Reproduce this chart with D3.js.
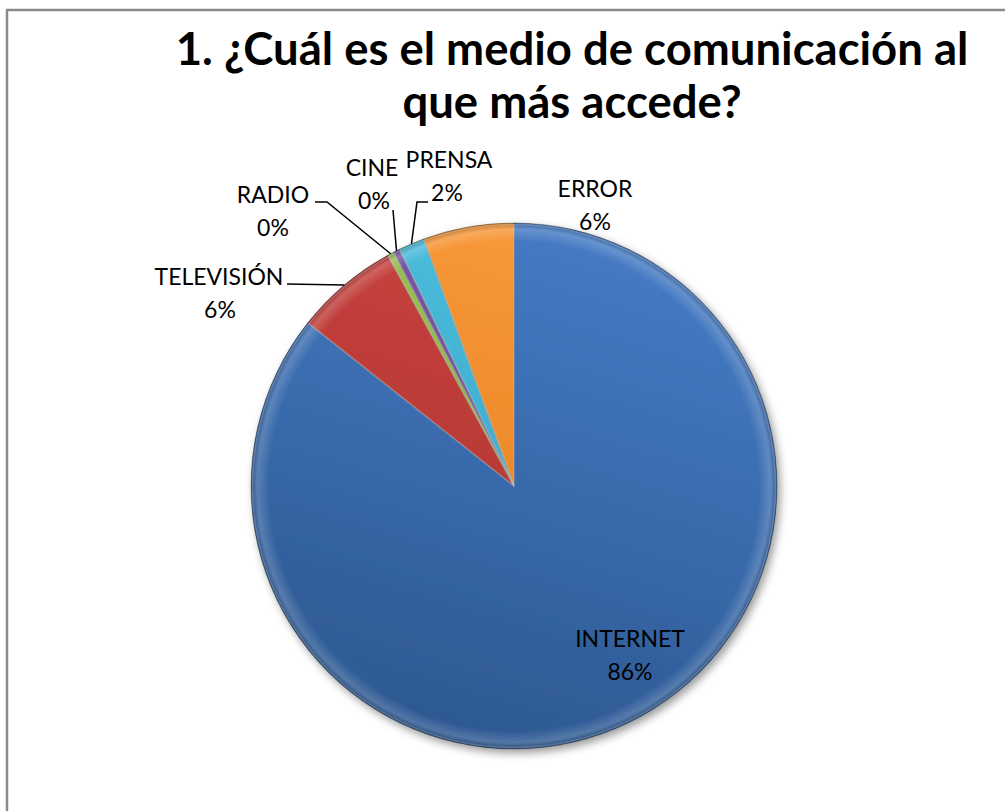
<!DOCTYPE html>
<html>
<head>
<meta charset="utf-8">
<script src="https://cdn.jsdelivr.net/npm/d3@7"></script>
<style>
  body { margin: 0; background: #fff; }
  text { font-family: Lato, "Noto Sans", sans-serif; fill: #000; }
</style>
</head>
<body>
<div class="chart"></div>
<script>
// Data
var categories = ["INTERNET", "TELEVISIÓN", "RADIO", "CINE", "PRENSA", "ERROR"];
var counts = [215, 16, 1, 1, 4, 14];
var titleLines = ["1. ¿Cuál es el medio de comunicación al", "que más accede?"];

// Colours (top light / bottom dark)
var colorsTop = ["#467cc6", "#cb4440", "#9cc454", "#7c5aa8", "#4fc0df", "#f99a3a"];
var colorsBottom = ["#2c5891", "#a8302c", "#7ea33a", "#5d3f86", "#2f9cbd", "#e27a1c"];

// Label placement (center of the two-line label block) + optional elbow of leader
var labelLayout = {
  "INTERNET":   { x: 630, y: 639 },
  "TELEVISIÓN": { x: 219, y: 277, lx: 220, lead: [[287, 284]] },
  "RADIO":      { x: 273, y: 195, lead: [[315, 202], [327, 202]] },
  "CINE":       { x: 372, y: 168, lx: 374, lead: [[393, 210]] },
  "PRENSA":     { x: 449, y: 160, lx: 447, lead: [[428, 202], [417, 202]] },
  "ERROR":      { x: 595, y: 189 }
};

var svgWidth = 1005;
var svgHeight = 811;
var cx = 514, cy = 486, radius = 263;
var labelSize = 23;

function draw() {
  var svg = d3.select(".chart")
    .append("svg")
    .attr("width", svgWidth)
    .attr("height", svgHeight);

  var defs = svg.append("defs");

  // frame
  svg.append("rect")
    .attr("x", 7).attr("y", 10)
    .attr("width", 1010).attr("height", 820)
    .attr("fill", "#fff")
    .attr("stroke", "#8a8a8a")
    .attr("stroke-width", 2.5);

  // title (fit the first line to the reference width)
  var title = svg.append("g").attr("class", "title");
  var t1 = title.append("text")
    .attr("x", 572).attr("y", 65)
    .attr("text-anchor", "middle")
    .style("font-weight", "bold")
    .style("font-size", "44px")
    .text(titleLines[0]);
  var fitSize = Math.min(46, 44 * 793 / t1.node().getComputedTextLength());
  t1.style("font-size", fitSize + "px");
  title.append("text")
    .attr("x", 572).attr("y", 118)
    .attr("text-anchor", "middle")
    .style("font-weight", "bold")
    .style("font-size", fitSize + "px")
    .text(titleLines[1]);

  // gradients, in chart coordinates (origin at pie center)
  categories.forEach(function(c, i) {
    var g = defs.append("linearGradient")
      .attr("id", "grad" + i)
      .attr("gradientUnits", "userSpaceOnUse")
      .attr("x1", radius * 0.4).attr("y1", -radius)
      .attr("x2", -radius * 0.2).attr("y2", radius);
    g.append("stop").attr("offset", "0%").attr("stop-color", colorsTop[i]);
    g.append("stop").attr("offset", "100%").attr("stop-color", colorsBottom[i]);
  });

  var bevel = defs.append("radialGradient")
    .attr("id", "bevel")
    .attr("gradientUnits", "userSpaceOnUse")
    .attr("cx", 0).attr("cy", 0).attr("r", radius);
  bevel.append("stop").attr("offset", "0.93").attr("stop-color", "#fff").attr("stop-opacity", 0);
  bevel.append("stop").attr("offset", "0.975").attr("stop-color", "#fff").attr("stop-opacity", 0.18);
  bevel.append("stop").attr("offset", "1").attr("stop-color", "#000").attr("stop-opacity", 0.25);

  var shadow = defs.append("filter")
    .attr("id", "shadow")
    .attr("x", "-10%").attr("y", "-10%")
    .attr("width", "125%").attr("height", "125%");
  shadow.append("feDropShadow")
    .attr("dx", 3).attr("dy", 4)
    .attr("stdDeviation", 4)
    .attr("flood-color", "#000")
    .attr("flood-opacity", 0.4);

  var total = d3.sum(counts);
  var pieData = d3.pie().sort(null).value(function(d) { return d; })(counts);
  var arc = d3.arc().innerRadius(0).outerRadius(radius);
  var edgeArc = d3.arc().innerRadius(radius).outerRadius(radius);
  var ringArc = d3.arc().innerRadius(radius * 0.93).outerRadius(radius);

  var chart = svg.append("g").attr("transform", "translate(" + cx + "," + cy + ")");

  var pieG = chart.append("g").attr("filter", "url(#shadow)");
  pieG.selectAll("path.slice")
    .data(pieData)
    .enter()
    .append("path")
    .attr("class", "slice")
    .attr("d", arc)
    .attr("fill", function(d, i) { return "url(#grad" + i + ")"; })
    .attr("stroke", "rgba(0,0,0,0.35)")
    .attr("stroke-width", 0.8)
    .attr("stroke-linejoin", "round");

  // bevel ring over each slice
  chart.selectAll("path.bevel")
    .data(pieData)
    .enter()
    .append("path")
    .attr("class", "bevel")
    .attr("d", ringArc)
    .attr("fill", "url(#bevel)");

  // light inner edge along slice borders
  chart.selectAll("path.hl")
    .data(pieData)
    .enter()
    .append("path")
    .attr("class", "hl")
    .attr("d", d3.arc().innerRadius(0).outerRadius(radius - 1.5))
    .attr("fill", "none")
    .attr("stroke", "rgba(255,255,255,0.2)")
    .attr("stroke-width", 1.5);

  // labels
  var labels = svg.append("g").attr("class", "labels");
  pieData.forEach(function(d, i) {
    var name = categories[i];
    var lay = labelLayout[name];
    var pct = Math.round(counts[i] / total * 100) + "%";

    labels.append("text")
      .attr("x", lay.x).attr("y", lay.y)
      .attr("text-anchor", "middle")
      .attr("dy", "0.35em")
      .style("font-size", labelSize + "px")
      .text(name);
    labels.append("text")
      .attr("x", lay.lx || lay.x).attr("y", lay.y + 33)
      .attr("text-anchor", "middle")
      .attr("dy", "0.35em")
      .style("font-size", labelSize + "px")
      .text(pct);

    if (lay.lead) {
      var end = edgeArc.centroid(d);
      var pts = lay.lead.concat([[end[0] + cx, end[1] + cy]]);
      labels.append("path")
        .attr("d", d3.line()(pts))
        .attr("fill", "none")
        .attr("stroke", "#000")
        .attr("stroke-width", 1.5);
    }
  });
}

if (document.fonts && document.fonts.load) {
  Promise.all([
    document.fonts.load("bold 44px Lato"),
    document.fonts.load(labelSize + "px Lato")
  ]).then(draw, draw);
} else {
  draw();
}
</script>
</body>
</html>
